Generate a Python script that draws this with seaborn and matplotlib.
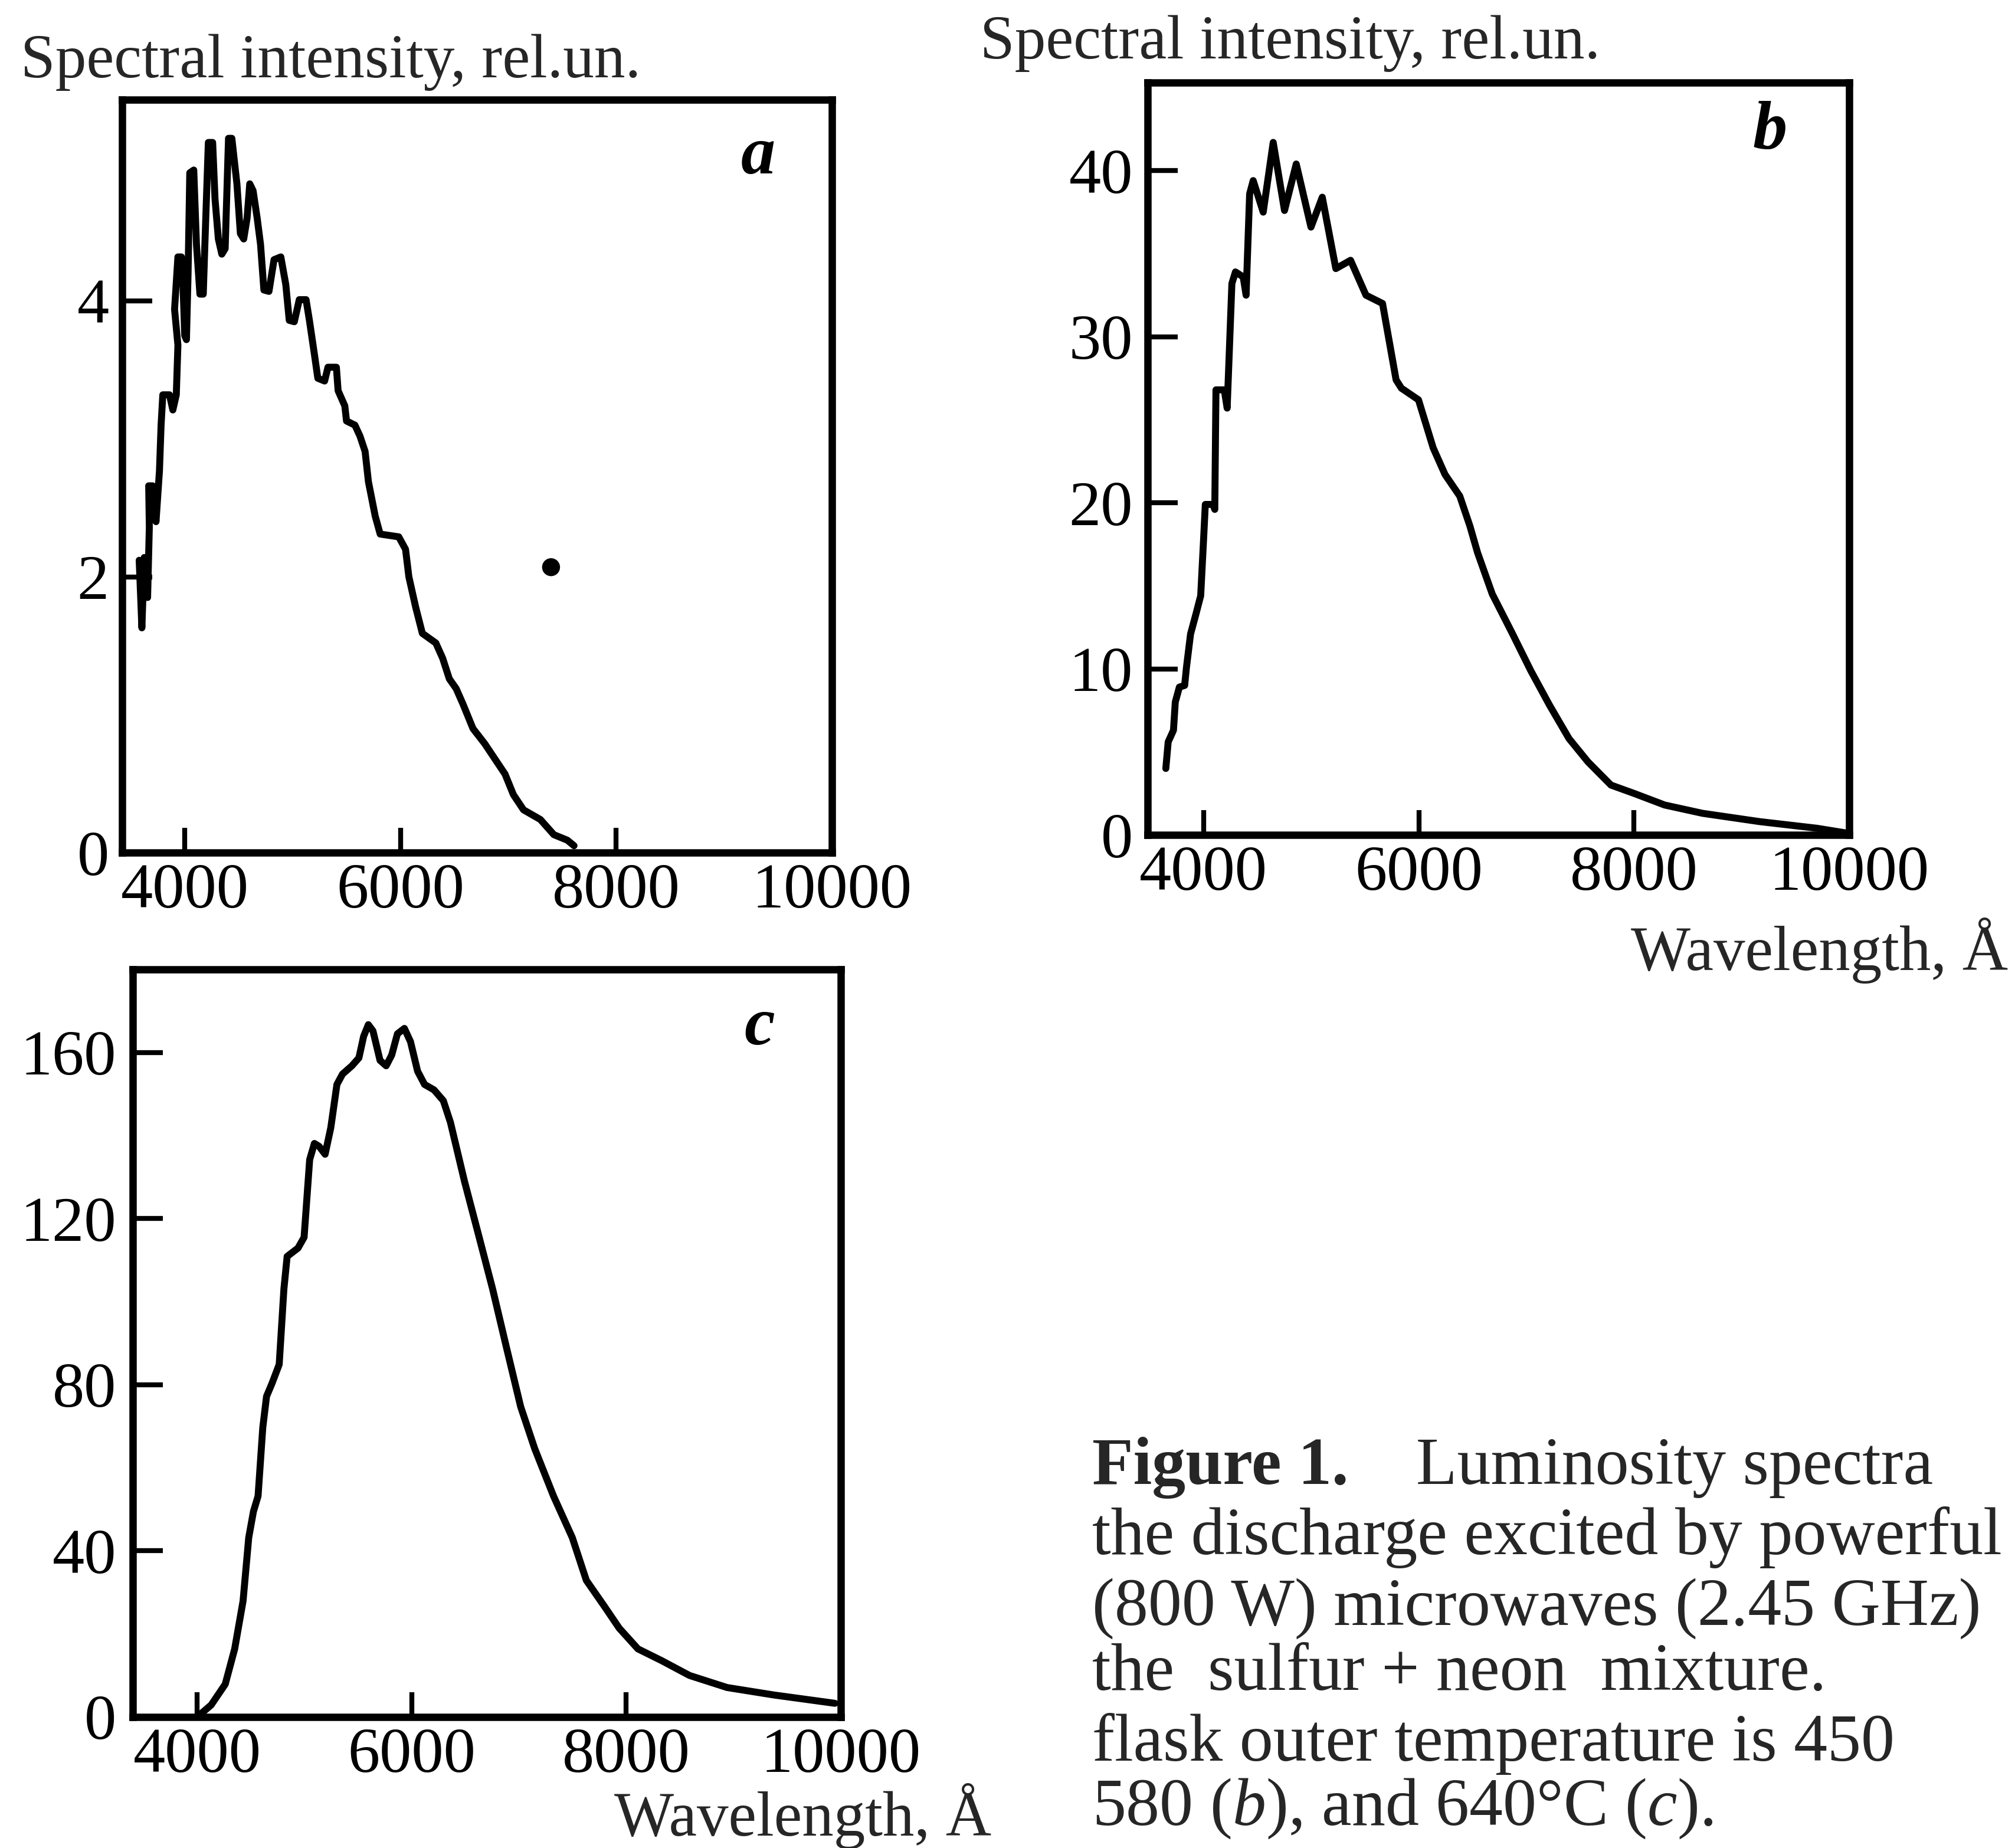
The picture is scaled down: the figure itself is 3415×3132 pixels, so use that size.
import matplotlib
matplotlib.use("Agg")
import matplotlib.pyplot as plt
import pandas as pd
import seaborn as sns

# ---------------- data ----------------
# panel a : 450 C
wl_a = [3578, 3603, 3625, 3656, 3672, 3666, 3703, 3734, 3766, 3781, 3797, 3859, 3890, 3922,
        3937, 3906, 3937, 3969, 3984, 4000, 4016, 4031, 4047, 4084, 4109, 4141, 4172, 4187,
        4219, 4259, 4281, 4312, 4344, 4375, 4406, 4437, 4484, 4516, 4547, 4578, 4603, 4634,
        4672, 4703, 4734, 4781, 4828, 4891, 4937, 4969, 5016, 5062, 5125, 5156, 5203, 5234,
        5297, 5328, 5406, 5422, 5484, 5500, 5578, 5625, 5672, 5703, 5766, 5812, 5984, 6047,
        6078, 6141, 6203, 6328, 6391, 6453, 6516, 6578, 6672, 6781, 6875, 6969, 7047, 7141,
        7297, 7422, 7547, 7609]
int_a = [2.12, 1.63, 2.14, 1.85, 2.36, 2.66, 2.66, 2.40, 2.77, 3.10, 3.32, 3.32, 3.21, 3.32,
         3.68, 3.94, 4.32, 4.32, 4.12, 3.75, 3.72, 4.19, 4.93, 4.95, 4.41, 4.05, 4.05, 4.41,
         5.15, 5.15, 4.74, 4.45, 4.34, 4.38, 5.18, 5.18, 4.85, 4.49, 4.45, 4.60, 4.85, 4.80,
         4.60, 4.41, 4.08, 4.07, 4.30, 4.32, 4.12, 3.86, 3.85, 4.01, 4.01, 3.86, 3.61, 3.44,
         3.42, 3.52, 3.52, 3.35, 3.24, 3.13, 3.10, 3.02, 2.91, 2.69, 2.44, 2.31, 2.29, 2.20,
         2.00, 1.78, 1.59, 1.52, 1.41, 1.26, 1.19, 1.08, 0.90, 0.79, 0.68, 0.57, 0.42, 0.31,
         0.24, 0.13, 0.09, 0.05]
dot_a_wl = [7396]
dot_a_int = [2.07]

# panel b : 580 C
wl_b = [3649, 3671, 3720, 3737, 3775, 3824, 3841, 3879, 3929, 3973, 4000, 4016, 4088, 4104,
        4115, 4192, 4219, 4263, 4296, 4368, 4395, 4428, 4461, 4554, 4647, 4752, 4861, 4998,
        5103, 5229, 5366, 5509, 5663, 5789, 5838, 5997, 6134, 6244, 6381, 6475, 6546, 6683,
        6864, 7040, 7216, 7396, 7572, 7786, 8000, 8285, 8637, 9168, 9701, 9986]
int_b = [4.0, 5.6, 6.3, 8.0, 8.9, 9.0, 10.1, 12.1, 13.3, 14.4, 17.8, 19.9, 19.9, 19.6,
         26.8, 26.8, 25.7, 33.2, 33.9, 33.6, 32.5, 38.6, 39.4, 37.5, 41.7, 37.6, 40.4, 36.6,
         38.4, 34.1, 34.6, 32.5, 32.0, 27.4, 26.9, 26.2, 23.3, 21.7, 20.4, 18.6, 17.0, 14.5,
         12.2, 9.9, 7.8, 5.8, 4.4, 3.0, 2.5, 1.8, 1.3, 0.8, 0.4, 0.1]

# panel c : 640 C
wl_c = [4000, 4131, 4262, 4350, 4428, 4481, 4525, 4568, 4612, 4647, 4699, 4765, 4809, 4839,
        4940, 4997, 5049, 5093, 5137, 5193, 5246, 5303, 5355, 5443, 5508, 5552, 5596, 5639,
        5705, 5762, 5814, 5867, 5932, 5989, 6055, 6120, 6208, 6295, 6361, 6492, 6623, 6754,
        6885, 7016, 7147, 7322, 7497, 7628, 7803, 7934, 8109, 8328, 8590, 8940, 9377, 9945]
int_c = [0, 2.9, 7.9, 16.4, 27.9, 43.2, 49.5, 53.2, 69.7, 77.2, 80.4, 84.9, 103.1, 110.9,
         112.9, 115.5, 134.2, 138.1, 137.4, 135.5, 141.9, 152.3, 154.8, 156.8, 158.7, 163.9,
         166.7, 165.2, 158.1, 156.8, 159.4, 164.5, 165.8, 162.6, 155.5, 152.3, 151.0, 148.4,
         143.2, 129.0, 116.1, 103.1, 88.8, 74.7, 64.6, 53.2, 43.2, 32.9, 26.4, 21.4, 16.4,
         13.6, 10.0, 7.1, 5.3, 3.3]

x_ticks = [4000, 6000, 8000, 10000]
x_tick_labels = ["4000", "6000", "8000", "10000"]
y_ticks_a = [0, 2, 4]
y_ticks_b = [0, 10, 20, 30, 40]
y_ticks_c = [0, 40, 80, 120, 160]

panel_letters = ["a", "b", "c"]
y_label = "Spectral intensity, rel.un."
x_label = "Wavelength, Å"
caption_bold = "Figure 1."
caption_lines = [
    "Luminosity spectra",
    "the discharge excited by powerful",
    "(800 W) microwaves (2.45 GHz)",
    "the  sulfur + neon  mixture.",
    "flask outer temperature is 450",
    r"580 ($\mathit{b}$), and 640°C ($\mathit{c}$).",
]

# ---------------- style ----------------
sns.set_theme(style="white")
plt.rcParams["font.family"] = ["Liberation Serif", "DejaVu Serif"]
plt.rcParams["mathtext.fontset"] = "custom"
plt.rcParams["mathtext.rm"] = "Liberation Serif"
plt.rcParams["mathtext.it"] = "Liberation Serif:italic"
plt.rcParams["mathtext.bf"] = "Liberation Serif:bold"

W, H = 3415, 3132
fig = plt.figure(figsize=(W / 100, H / 100), dpi=100)
fig.patch.set_facecolor("white")


def add_axes_px(left, top, right, bottom):
    return fig.add_axes([left / W, 1 - bottom / H, (right - left) / W, (bottom - top) / H])


ax_a = add_axes_px(207, 169, 1410, 1445)
ax_b = add_axes_px(1945, 140, 3134, 1415)
ax_c = add_axes_px(225, 1643, 1425, 2910)

LW = 8.5
sns.lineplot(data=pd.DataFrame({"wl": wl_a, "I": int_a}), x="wl", y="I", sort=False,
             estimator=None, color="black", linewidth=LW, ax=ax_a)
sns.scatterplot(x=dot_a_wl, y=dot_a_int, color="black", s=480, marker="o",
                edgecolor="none", ax=ax_a)
sns.lineplot(data=pd.DataFrame({"wl": wl_b, "I": int_b}), x="wl", y="I", sort=False,
             estimator=None, color="black", linewidth=LW, ax=ax_b)
sns.lineplot(data=pd.DataFrame({"wl": wl_c, "I": int_c}), x="wl", y="I", sort=False,
             estimator=None, color="black", linewidth=LW, ax=ax_c)


def style(ax, xlim, ylim, yticks, ypad):
    ax.set_xlim(*xlim)
    ax.set_ylim(*ylim)
    ax.set_xticks(x_ticks)
    ax.set_xticklabels(x_tick_labels)
    ax.set_yticks(yticks)
    ax.set_yticklabels([str(t) for t in yticks])
    ax.set_xlabel("")
    ax.set_ylabel("")
    ax.grid(False)
    for s in ax.spines.values():
        s.set_visible(True)
        s.set_linewidth(9)
        s.set_color("black")
    ax.tick_params(axis="x", direction="in", length=30, width=6, pad=13,
                   labelsize=78, colors="black", bottom=True, top=False)
    ax.tick_params(axis="y", direction="in", length=37, width=6, pad=ypad,
                   labelsize=78, colors="black", left=True, right=False)
    ax.set_facecolor("white")


style(ax_a, (3420, 10000), (0, 5.46), y_ticks_a, 16)
style(ax_b, (3480, 10000), (0, 45.3), y_ticks_b, 18)
style(ax_c, (3400, 10000), (0, 180), y_ticks_c, 20)

for ax, letter, (px, py) in zip([ax_a, ax_b, ax_c], panel_letters,
                                [(0.896, 0.924), (0.887, 0.934), (0.885, 0.922)]):
    ax.text(px, py, letter, transform=ax.transAxes, fontsize=84, fontstyle="italic",
            fontweight="bold", ha="center", va="center", color="black")

# axis titles
fig.text(35 / W, 1 - 131 / H, y_label, fontsize=76, ha="left", va="baseline")
fig.text(1661 / W, 1 - 99 / H, y_label, fontsize=76, ha="left", va="baseline")
fig.text(3403 / W, 1 - 1644 / H, x_label, fontsize=77, ha="right", va="baseline")
fig.text(1680 / W, 1 - 3111 / H, x_label, fontsize=77, ha="right", va="baseline")

# caption
CAP_FS = 82
cap_x = 1851 / W
baselines = [2515, 2634, 2754, 2864, 2984, 3093]
fig.text(cap_x, 1 - baselines[0] / H, caption_bold, fontsize=CAP_FS, fontweight="bold",
         ha="left", va="baseline")
fig.text(2400 / W, 1 - baselines[0] / H, caption_lines[0], fontsize=CAP_FS,
         ha="left", va="baseline")
for line, b in zip(caption_lines[1:], baselines[1:]):
    fig.text(cap_x, 1 - b / H, line, fontsize=CAP_FS, ha="left", va="baseline")

fig.savefig("out.png", dpi=100, facecolor="white")
